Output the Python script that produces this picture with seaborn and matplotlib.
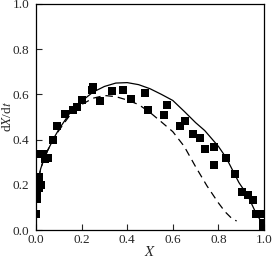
import pandas as pd
import seaborn as sns
import matplotlib.pyplot as plt

# Experimental points (X, dX/dt)
exp_x = [0.0, 0.003, 0.006, 0.003, 0.015, 0.02, 0.013, 0.02, 0.032, 0.04, 0.054, 0.076,
         0.09, 0.127, 0.16, 0.18, 0.2, 0.244, 0.248, 0.28, 0.335, 0.38, 0.417,
         0.48, 0.49, 0.56, 0.575, 0.63, 0.652, 0.689, 0.72, 0.74, 0.78, 0.78,
         0.834, 0.875, 0.905, 0.93, 0.95, 0.963, 0.988, 0.995, 0.995]
exp_y = [0.07, 0.137, 0.155, 0.198, 0.185, 0.2, 0.234, 0.335, 0.335, 0.313, 0.317, 0.396,
         0.458, 0.511, 0.529, 0.546, 0.577, 0.621, 0.634, 0.57, 0.614, 0.62, 0.58,
         0.607, 0.529, 0.507, 0.555, 0.458, 0.484, 0.426, 0.408, 0.357, 0.367, 0.286,
         0.32, 0.25, 0.169, 0.154, 0.132, 0.07, 0.07, 0.03, 0.01]

# Model curve (solid)
solid_x = [0.0, 0.005, 0.01, 0.02, 0.03, 0.05, 0.08, 0.1, 0.15, 0.2, 0.25, 0.3, 0.35,
           0.4, 0.45, 0.5, 0.55, 0.6, 0.65, 0.7, 0.74, 0.8, 0.834, 0.89, 0.93, 0.96,
           0.98, 1.0]
solid_y = [0.12, 0.18, 0.22, 0.27, 0.30, 0.35, 0.41, 0.445, 0.52, 0.57, 0.61, 0.635,
           0.65, 0.652, 0.643, 0.625, 0.60, 0.573, 0.525, 0.475, 0.44, 0.37, 0.32,
           0.21, 0.15, 0.085, 0.05, 0.02]

# Model curve (dashed)
dash_x = [0.0, 0.005, 0.01, 0.02, 0.03, 0.05, 0.08, 0.1, 0.15, 0.2, 0.25, 0.3, 0.35,
          0.4, 0.45, 0.5, 0.55, 0.6, 0.65, 0.7, 0.75, 0.8, 0.83, 0.86, 0.88]
dash_y = [0.12, 0.18, 0.22, 0.27, 0.30, 0.35, 0.41, 0.44, 0.51, 0.555, 0.583, 0.595,
          0.59, 0.575, 0.555, 0.52, 0.478, 0.435, 0.37, 0.28, 0.195, 0.12, 0.08,
          0.05, 0.04]

x_ticks = [0.0, 0.2, 0.4, 0.6, 0.8, 1.0]
y_ticks = [0.0, 0.2, 0.4, 0.6, 0.8, 1.0]

sns.set_style("ticks")
plt.rcParams['font.family'] = ['Liberation Serif', 'DejaVu Serif']
plt.rcParams['mathtext.fontset'] = 'stix'

fig = plt.figure(figsize=(2.73, 2.62), dpi=100)
ax = fig.add_axes([0.132, 0.122, 0.835, 0.863])

solid_df = pd.DataFrame({'x': solid_x, 'y': solid_y})
dash_df = pd.DataFrame({'x': dash_x, 'y': dash_y})
exp_df = pd.DataFrame({'x': exp_x, 'y': exp_y})

sns.lineplot(data=solid_df, x='x', y='y', sort=False, color='black', lw=0.9, ax=ax)
sns.lineplot(data=dash_df, x='x', y='y', sort=False, color='black', lw=0.9,
             linestyle=(0, (6, 4)), ax=ax)
sns.scatterplot(data=exp_df, x='x', y='y', marker='s', s=30, color='black',
                edgecolor='black', linewidth=0, ax=ax, zorder=3)

ax.set_xlim(0, 1.0)
ax.set_ylim(0, 1.0)
ax.set_xticks(x_ticks)
ax.set_yticks(y_ticks)
ax.set_xticklabels([f'{v:.1f}' for v in x_ticks])
ax.set_yticklabels([f'{v:.1f}' for v in y_ticks])
ax.tick_params(direction='in', length=4, width=0.8, labelsize=9.5)
ax.tick_params(axis='x', pad=3)
ax.tick_params(axis='y', pad=5)
for s in ax.spines.values():
    s.set_linewidth(0.9)
    s.set_color('black')

ax.set_xlabel('$X$', fontsize=10.5, labelpad=-1)
ax.set_ylabel('d$X$/d$t$', fontsize=9.5)
ax.yaxis.set_label_coords(-0.098, 0.5)

plt.savefig('out.png', dpi=100)
